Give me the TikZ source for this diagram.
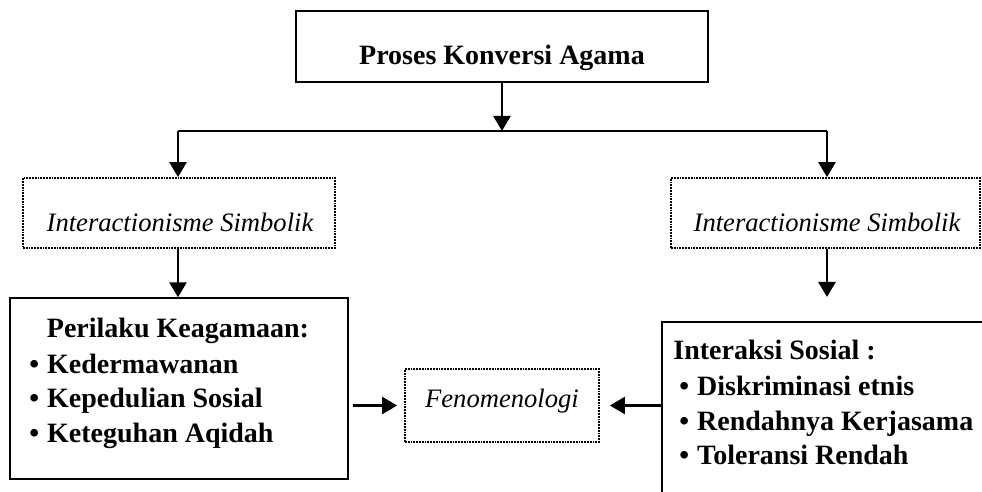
\documentclass[tikz,border=0pt]{standalone}
\usepackage{fontspec}
\setmainfont{Liberation Serif}
\usetikzlibrary{arrows.meta, fit}
\tikzset{>={Triangle[width=8.5pt, length=7.5pt]}}
\tikzset{solidbox/.style={draw, line width=0.7pt, inner sep=0pt}}
\tikzset{dotbox/.style={draw, line width=0.9pt, dash pattern=on 0.9pt off 0.5pt, inner sep=0pt}}
\tikzset{flow/.style={line width=1.3pt, ->}}
\tikzset{caption/.style={inner sep=0pt, font=\boldtext}}
\tikzset{slanted/.style={inner sep=0pt, font=\slanttext}}
\newcommand{\boldtext}{\fontsize{14}{17.5}\selectfont\bfseries}
\newcommand{\slanttext}{\fontsize{13.3}{16}\selectfont\itshape}
\newcommand{\bulletline}[1]{\textbullet\hspace{4pt}#1}

\begin{document}
\begin{tikzpicture}[x=0.5pt, y=-0.5pt, line join=miter]

	% Canvas
	\useasboundingbox (0,0) rectangle (982,492);
	\clip (0,0) rectangle (982,492);

	% Boxes
	\node[solidbox, fit={(296,11) (708,82)}] (konversi) {};
	\node[dotbox, fit={(23,178) (335,248)}] (simbolL) {};
	\node[dotbox, fit={(671,178) (980,248)}] (simbolR) {};
	\node[solidbox, fit={(10,298) (348,479)}] (perilaku) {};
	\node[dotbox, fit={(405,369) (599,442)}] (fenomen) {};
	\node[solidbox, fit={(662,322) (1000,520)}] (sosial) {};

	% Texts
	\node[caption, anchor=base] (konversitext) at (502,65) {Proses Konversi Agama};
	\node[slanted, anchor=base] (simbolLtext) at (180,232) {Interactionisme Simbolik};
	\node[slanted, anchor=base] (simbolRtext) at (827,232) {Interactionisme Simbolik};
	\node[slanted, anchor=base] (fenomentext) at (502,408) {Fenomenologi};

	\node[caption, anchor=base] (perilakutitle) at (178,338) {Perilaku Keagamaan:};
	\foreach \word/\ypos [count=\i] in {Kedermawanan/373, Kepedulian Sosial/408, Keteguhan Aqidah/443}
		\node[caption, anchor=base west] (perilaku\i) at (29,\ypos) {\bulletline{\word}};

	\node[caption, anchor=base west] (sosialtitle) at (673,360) {Interaksi Sosial :};
	\foreach \word/\ypos [count=\i] in {Diskriminasi etnis/395, Rendahnya Kerjasama/430, Toleransi Rendah/465}
		\node[caption, anchor=base west] (sosial\i) at (679,\ypos) {\bulletline{\word}};

	% Branching
	\coordinate (splitL) at (178,131);
	\coordinate (splitR) at (827,131);
	\coordinate (sosialtip) at (827,297);
	\draw[line width=0.7pt] (splitL) -- (splitR);
	\draw[flow] (konversi.south) -- (konversi.south |- splitL);
	\draw[flow] (splitL) -- (splitL |- simbolL.north);
	\draw[flow] (splitR) -- (splitR |- simbolR.north);
	\draw[flow] (splitL |- simbolL.south) -- (splitL |- perilaku.north);
	\draw[flow] (sosialtip |- simbolR.south) -- (sosialtip);

	% Into Fenomenologi
	\draw[flow, shorten <=2pt, shorten >=3.5pt] (perilaku.east |- fenomen) -- (fenomen.west);
	\draw[flow, shorten >=5pt] (sosial.west |- fenomen) -- (fenomen.east);
\end{tikzpicture}
\end{document}
